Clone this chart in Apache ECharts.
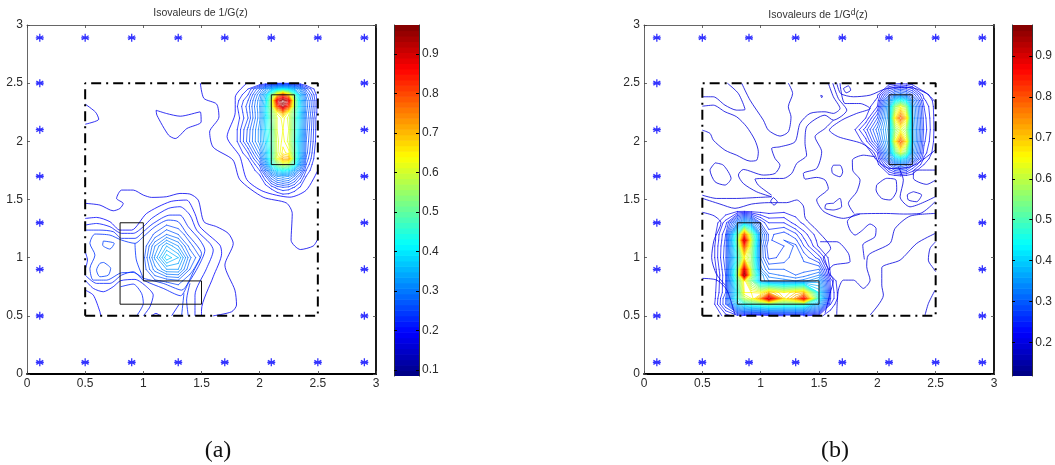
<!DOCTYPE html>
<html><head><meta charset="utf-8">
<style>html,body{margin:0;padding:0;background:#fff}#c{width:1055px;height:465px}</style>
<script src="https://cdn.jsdelivr.net/npm/echarts@6/dist/echarts.min.js"></script>
</head><body><div id="c"></div>
<script>
// ---------- tick labels / sensors ----------
const axisTicks = [0, 0.5, 1, 1.5, 2, 2.5, 3];
const barTicksA = [0.1, 0.2, 0.3, 0.4, 0.5, 0.6, 0.7, 0.8, 0.9];
const barTicksB = [0.2, 0.3, 0.4, 0.5, 0.6, 0.7, 0.8, 0.9];
const barRangeA = [0.085, 0.973];
const barRangeB = [0.118, 0.976];
const sensors = [
 [.11,2.89],[.5,2.89],[.9,2.89],[1.3,2.89],[1.7,2.89],[2.1,2.89],[2.5,2.89],[2.9,2.89],
 [.11,.1],[.5,.1],[.9,.1],[1.3,.1],[1.7,.1],[2.1,.1],[2.5,.1],[2.9,.1],
 [.11,2.5],[.11,2.1],[.11,1.7],[.11,1.3],[.11,.9],[.11,.5],
 [2.9,2.5],[2.9,2.1],[2.9,1.7],[2.9,1.3],[2.9,.9],[2.9,.5]];
const frame = [[.5,.5],[2.5,.5],[2.5,2.5],[.5,2.5],[.5,.5]];
const shapeL = [[.8,.6],[1.5,.6],[1.5,.8],[1,.8],[1,1.3],[.8,1.3],[.8,.6]];
const shapeR = [[2.1,1.8],[2.3,1.8],[2.3,2.4],[2.1,2.4],[2.1,1.8]];

// ---------- panel (a): isovalue lines ----------
const linesA = [
 [.11,[[1.49,2.5],[1.52,2.37],[1.63,2.32],[1.65,2.21],[1.57,2.08],[1.6,1.95],[1.77,1.84],[1.83,1.67],[2.03,1.52],[2.23,1.47],[2.28,1.38],[2.27,1.15],[2.35,1.07],[2.46,1.1],[2.5,1.16]]],
 [.13,[[1.89,2.5],[1.79,2.38],[1.79,2.25],[1.72,2.04],[1.83,1.87],[1.89,1.67],[2.03,1.57],[2.26,1.52],[2.4,1.58],[2.5,1.75]]],
 [.11,[[.5,2.32],[.59,2.25],[.617,2.19],[.5,2.147]]],
 [.11,[[1.11,2.267],[1.2,2.239],[1.317,2.216],[1.489,2.253],[1.497,2.167],[1.374,2.11],[1.274,2.024],[1.217,2.053],[1.117,2.224],[1.11,2.267]]],
 [.11,[[.5,1.467],[.627,1.452],[.741,1.403],[.799,1.423],[.827,1.466],[.77,1.509],[.813,1.581],[.913,1.581],[1,1.538],[1.071,1.518],[1.2,1.524],[1.315,1.552],[1.4,1.547],[1.472,1.495],[1.521,1.309],[1.63,1.266],[1.73,1.209],[1.773,1.123],[1.701,.936],[1.787,.721],[1.801,.593],[1.759,.535],[1.6,.5]]],
 [.13,[[.5,1.337],[.598,1.346],[.713,1.309],[.799,1.237],[.899,1.237],[1.028,1.38],[1.229,1.481],[1.372,1.495],[1.443,1.38],[1.486,1.266],[1.658,1.108],[1.673,1.037],[1.601,.836],[1.5,.55],[1.5,.5]]],
 [.15,[[.5,1.28],[.598,1.294],[.713,1.266],[.813,1.209],[.913,1.209],[1,1.266],[1.071,1.337],[1.214,1.423],[1.315,1.438],[1.401,1.366],[1.458,1.237],[1.572,1.123],[1.601,1.065],[1.544,.908],[1.444,.678],[1.444,.5]]],
 [.17,[[.5,1.237],[.627,1.237],[.742,1.223],[.813,1.166],[.928,1.166],[1,1.223],[1.085,1.294],[1.229,1.366],[1.315,1.366],[1.386,1.266],[1.486,1.151],[1.529,1.065],[1.472,.922],[1.386,.779],[1.32,.673],[1.171,.736],[1,.807],[.913,.879],[.813,.85],[.713,.779],[.598,.779],[.5,.85]]],
 [.19,[[1,.822],[.913,.873],[.813,.87],[.684,.807],[.57,.807],[.541,.908],[.584,1.022],[.541,1.123],[.584,1.203],[.713,1.194],[.813,1.151],[.928,1.123],[1,1.18],[1.1,1.266],[1.214,1.323],[1.3,1.309],[1.372,1.209],[1.458,1.108],[1.5,1.037],[1.444,.908],[1.329,.721],[1.171,.779],[1,.822]]],
 [.19,[[.928,1.123],[.94,.98],[1,.822]]],
 [.15,[[.5,.807],[.57,.736],[.656,.707],[.741,.75],[.805,.802],[.928,.813],[1.028,.75],[1.085,.678],[1.057,.578],[1,.5]]],
 [.17,[[.805,.75],[.913,.773],[.985,.693],[1,.607],[.942,.5]]],
 [.13,[[.5,.721],[.57,.678],[.627,.535],[.633,.5]]],
 [.13,[[1.071,.5],[1.108,.521],[1.148,.5]]],
 [.15,[[1.309,.601],[1.243,.5]]],
 [.17,[[1.401,.779],[1.372,.636],[1.386,.5]]],
 [.19,[[1.349,.693],[1.329,.5]]],
 [.21,[[.656,1.143],[.75,1.123],[.713,1.074],[.65,1.108],[.656,1.143]]],
 [.21,[[.661,.959],[.719,.908],[.699,.85],[.627,.836],[.598,.893],[.627,.951],[.661,.959]]],
 [.15,[[.5,1.05],[.52,.98],[.5,.9]]]
];
// central hump of (a), field estimated from the ring positions
const humpAx = [1,1.1,1.2,1.3,1.4,1.5,1.6];
const humpAy = [1.4,1.3,1.2,1.1,1,.9,.8,.7];
const humpAz = [
 [.14,.15,.165,.17,.155,.13,.11],
 [.155,.18,.2,.19,.16,.13,.115],
 [.18,.215,.25,.23,.19,.155,.13],
 [.19,.27,.33,.29,.22,.18,.15],
 [.2,.295,.385,.35,.255,.205,.165],
 [.195,.26,.31,.31,.23,.17,.14],
 [.18,.205,.215,.225,.185,.15,.12],
 [.14,.15,.165,.18,.15,.12,.1]];
// upper right peak of (a)
const peakAx = [1.8,1.9,2,2.05,2.1,2.15,2.2,2.25,2.3,2.35,2.4,2.5];
const peakAy = [2.5,2.45,2.4,2.35,2.3,2.25,2.2,2.1,2,1.9,1.85,1.8,1.75,1.7,1.6,1.5];
const peakAz = [
 [.09,.1,.12,.13,.14,.145,.15,.145,.14,.13,.12,.1],
 [.11,.15,.23,.29,.34,.38,.4,.38,.33,.28,.2,.125],
 [.13,.17,.27,.36,.5,.68,.8,.68,.49,.35,.24,.135],
 [.14,.19,.285,.375,.56,.88,.97,.88,.55,.37,.26,.14],
 [.145,.2,.29,.39,.55,.8,.94,.8,.54,.38,.265,.14],
 [.14,.195,.285,.395,.52,.64,.74,.62,.5,.375,.255,.14],
 [.135,.19,.285,.385,.5,.61,.64,.6,.49,.37,.25,.13],
 [.145,.215,.3,.39,.48,.61,.63,.61,.48,.355,.24,.13],
 [.145,.22,.3,.375,.47,.6,.64,.6,.47,.35,.23,.13],
 [.125,.17,.26,.35,.46,.6,.66,.64,.49,.345,.22,.12],
 [.115,.15,.23,.33,.46,.62,.72,.72,.5,.33,.205,.12],
 [.105,.13,.195,.29,.42,.52,.58,.55,.44,.3,.19,.11],
 [.09,.12,.17,.24,.33,.39,.42,.4,.33,.25,.17,.11],
 [.08,.105,.145,.19,.25,.29,.3,.29,.25,.2,.15,.1],
 [.07,.09,.115,.135,.155,.175,.185,.18,.165,.145,.12,.095],
 [.06,.08,.095,.1,.105,.11,.12,.12,.115,.105,.1,.09]];

// ---------- panel (b) ----------
const linesB = [
 [.12,[[.714,2.5],[.809,2.411],[.866,2.274],[.794,2.268],[.694,2.311],[.594,2.383],[.5,2.383]]],
 [.12,[[.5,2.302],[.594,2.311],[.694,2.254],[.794,2.211],[.88,2.125],[.951,2.01],[.98,1.91],[.966,1.838],[.909,1.83],[.794,1.881],[.694,1.924],[.594,2.01],[.566,2.068],[.5,2.096]]],
 [.12,[[.837,2.5],[.909,2.354],[1.023,2.182],[1.066,2.096],[1.166,2.045],[1.237,2.082],[1.26,2.211],[1.237,2.297],[1.274,2.411],[1.237,2.5]]],
 [.12,[[1.58,2.5],[1.623,2.383],[1.68,2.282],[1.623,2.24],[1.551,2.254],[1.423,2.24],[1.337,2.153],[1.294,1.996],[1.166,1.953],[1.094,1.939],[1.123,1.853],[1.166,1.795],[1.123,1.724],[1.023,1.71],[.851,1.758],[.809,1.71],[.851,1.638],[.966,1.566],[1.094,1.523]]],
 [.12,[[1.618,2.5],[1.666,2.368],[1.738,2.268],[1.623,2.182],[1.551,2.225],[1.394,2.125],[1.38,1.982],[1.394,1.881],[1.309,1.81],[1.266,1.724],[1.194,1.681],[1.051,1.681],[.951,1.675],[.98,1.623],[1.094,1.537]]],
 [.12,[[1.623,2.182],[1.551,2.11],[1.466,2.039],[1.523,1.91],[1.48,1.767],[1.366,1.724],[1.38,1.675],[1.48,1.69],[1.551,1.668],[1.58,1.596],[1.48,1.496],[1.543,1.395],[1.709,1.338],[1.851,1.375]]],
 [.12,[[.609,1.815],[.68,1.795],[.746,1.681],[.694,1.624],[.609,1.652],[.566,1.752],[.609,1.815]]],
 [.12,[[.5,1.537],[.623,1.509],[.794,1.509],[.966,1.517],[1.094,1.523]]],
 [.12,[[1.109,1.517],[1.143,1.48],[1.114,1.452],[1.086,1.486],[1.109,1.517]]],
 [.12,[[1.515,2.395],[1.53,2.39],[1.523,2.375],[1.515,2.395]]],
 [.12,[[1.623,1.795],[1.68,1.795],[1.703,1.738],[1.68,1.695],[1.617,1.724],[1.609,1.767],[1.623,1.795]]],
 [.12,[[1.994,1.625],[2.08,1.682],[2.16,1.668],[2.166,1.582],[2.109,1.496],[2.037,1.51],[1.989,1.582],[1.994,1.625]]],
 [.12,[[2.309,1.567],[2.38,1.539],[2.337,1.481],[2.266,1.496],[2.257,1.539],[2.309,1.567]]],
 [.12,[[2.5,1.753],[2.32,1.753],[2.309,1.682],[2.423,1.63],[2.5,1.668]]],
 [.12,[[1.623,1.467],[1.68,1.51],[1.694,1.438],[1.623,1.41],[1.551,1.424],[1.56,1.46],[1.623,1.467]]],
 [.13,[[2.495,1.481],[2.366,1.38],[2.223,1.375],[2.08,1.38],[1.823,1.375],[1.743,1.309],[1.766,1.237],[1.809,1.194],[1.866,1.231],[1.938,1.289],[1.989,1.251],[1.98,1.18],[1.875,1.108],[1.889,.985]]],
 [.12,[[2.495,1.38],[2.28,1.357],[2.152,1.251],[2.109,1.123],[1.923,1.022],[1.909,.922],[1.938,.807],[1.88,.736],[1.795,.807],[1.709,.807],[1.666,.721],[1.652,.507]]],
 [.12,[[2.495,1.208],[2.338,1.123],[2.195,.979],[2.038,.913],[2.038,.764],[2.052,.678],[1.938,.507]]],
 [.12,[[2.5,1.137],[2.452,1.08],[2.437,.979],[2.48,.908],[2.5,.88]]],
 [.12,[[2.495,.721],[2.438,.607],[2.409,.507]]],
 [.13,[[1.509,1.137],[1.652,1.137],[1.752,1.037],[1.766,.965],[1.623,.936],[1.58,.879],[1.623,.807],[1.595,.693],[1.552,.521]]],
 [.12,[[1.652,2.5],[1.686,2.411],[1.795,2.383],[1.938,2.397],[2.08,2.454],[2.28,2.463],[2.423,2.411],[2.495,2.34]]],
 [.13,[[1.68,2.5],[1.723,2.325],[1.852,2.325],[1.938,2.282],[1.823,2.24],[1.695,2.182],[1.589,2.096],[1.666,2.039],[1.866,1.982],[1.966,1.91],[2.009,1.824],[2.109,1.767],[2.266,1.775],[2.366,1.824],[2.495,1.924]]],
 [.12,[[1.709,2.454],[1.752,2.477],[1.772,2.44],[1.732,2.417],[1.709,2.454]]],
 [.12,[[1.98,1.867],[1.88,1.881],[1.786,1.838],[1.789,1.752],[1.852,1.666],[1.823,1.566],[1.752,1.466],[1.8,1.38]]],
 [.12,[[2.18,1.781],[2.223,1.666],[2.195,1.523],[2.28,1.437],[2.495,1.523]]],
 [.12,[[.5,1.51],[.651,1.461],[.78,1.424],[.923,1.461],[1.066,1.473],[1.223,1.473],[1.309,1.496],[1.366,1.444],[1.383,1.338],[1.48,1.238],[1.6,1.08],[1.537,.994],[1.589,.894]]],
 [.12,[[.5,.822],[.623,.808],[.71,.722],[.78,.507]]],
 [.13,[[.5,1.39],[.6,1.36],[.66,1.3],[.6,1.15],[.58,1],[.62,.86],[.7,.76]]]
];
const elbowBx = [.5,.6,.7,.8,.86,.92,1,1.07,1.2,1.3,1.37,1.5,1.6,1.7];
const elbowBy = [1.5,1.4,1.3,1.2,1.15,1.1,1,.9,.85,.8,.7,.65,.6,.5];
const elbowBz = [
 [.09,.1,.11,.12,.125,.12,.12,.115,.115,.115,.11,.105,.1,.09],
 [.1,.115,.125,.135,.135,.13,.13,.13,.135,.13,.12,.11,.1,.09],
 [.115,.125,.17,.3,.38,.33,.22,.18,.18,.15,.135,.12,.105,.09],
 [.115,.13,.2,.5,.8,.56,.3,.215,.23,.205,.17,.125,.105,.09],
 [.115,.13,.205,.52,.92,.6,.29,.215,.24,.225,.185,.13,.11,.09],
 [.115,.135,.21,.5,.82,.58,.28,.2,.22,.245,.2,.135,.11,.09],
 [.115,.135,.215,.46,.66,.56,.28,.215,.225,.26,.235,.19,.125,.09],
 [.11,.125,.205,.52,.9,.58,.31,.26,.26,.24,.25,.26,.13,.095],
 [.11,.12,.2,.54,.96,.59,.36,.29,.275,.26,.27,.3,.14,.1],
 [.11,.125,.2,.5,.68,.54,.36,.32,.31,.3,.31,.35,.17,.105],
 [.11,.13,.2,.45,.66,.66,.65,.72,.66,.7,.72,.42,.18,.11],
 [.11,.13,.22,.47,.6,.64,.75,.93,.68,.75,.88,.45,.18,.11],
 [.11,.135,.22,.4,.45,.48,.5,.52,.5,.5,.5,.36,.16,.105],
 [.1,.12,.15,.17,.15,.14,.14,.15,.16,.16,.16,.15,.12,.09]];
const nestBx = [1.8,1.9,2,2.1,2.15,2.2,2.25,2.3,2.4,2.5];
const nestBy = [2.5,2.4,2.35,2.3,2.2,2.1,2,1.9,1.85,1.8,1.7,1.6];
const nestBz = [
 [.1,.11,.115,.125,.13,.135,.13,.125,.115,.11],
 [.1,.115,.135,.24,.28,.3,.28,.24,.15,.125],
 [.105,.12,.145,.32,.42,.46,.42,.31,.165,.13],
 [.11,.125,.16,.36,.55,.65,.55,.34,.18,.13],
 [.12,.14,.22,.36,.66,.8,.68,.35,.19,.13],
 [.135,.19,.27,.37,.55,.63,.56,.36,.195,.13],
 [.12,.15,.24,.36,.64,.8,.66,.36,.185,.13],
 [.11,.12,.16,.33,.5,.62,.52,.33,.17,.125],
 [.105,.115,.145,.3,.38,.42,.38,.29,.155,.12],
 [.1,.105,.13,.22,.27,.29,.27,.21,.14,.115],
 [.09,.1,.115,.125,.13,.135,.13,.125,.115,.1],
 [.09,.09,.1,.105,.105,.105,.105,.105,.1,.095]];

// ---------- helpers ----------
function jetAt(t) {
  const c = (d) => Math.round(255 * Math.max(0, Math.min(1, 1.5 - Math.abs(4 * t - d))));
  return 'rgb(' + c(3) + ',' + c(2) + ',' + c(1) + ')';
}
const jet = (v, r) => jetAt((v - r[0]) / (r[1] - r[0]));
// thin low-level lines look plain blue in the reference, not navy
function lineColor(v, r) {
  let t = (v - r[0]) / (r[1] - r[0]);
  if (t < .3) t += .09 * (1 - t / .3);
  return jetAt(t);
}
function contour(xs, ys, z, L) {
  const out = [];
  const brk = ['-', '-'];
  for (let j = 0; j < ys.length - 1; j++) for (let i = 0; i < xs.length - 1; i++) {
    const p = [];
    const edge = (x1, y1, a, x2, y2, b) => {
      if ((a >= L) !== (b >= L)) {
        const t = (L - a) / (b - a);
        p.push([x1 + t * (x2 - x1), y1 + t * (y2 - y1)]);
      }
    };
    const a = z[j][i], b = z[j][i + 1], c = z[j + 1][i + 1], d = z[j + 1][i];
    edge(xs[i], ys[j], a, xs[i + 1], ys[j], b);
    edge(xs[i + 1], ys[j], b, xs[i + 1], ys[j + 1], c);
    edge(xs[i + 1], ys[j + 1], c, xs[i], ys[j + 1], d);
    edge(xs[i], ys[j + 1], d, xs[i], ys[j], a);
    if (p.length === 2) out.push(p[0], p[1], brk);
    else if (p.length === 4) out.push(p[0], p[1], brk, p[2], p[3], brk);
  }
  return out;
}
function levels(from, to) { const r = []; for (let k = 0; from + k * .02 <= to + 1e-9; k++) r.push(+(from + k * .02).toFixed(3)); return r; }

const series = [];
function fieldLines(xs, ys, z, from, range, g) {
  levels(from, .97).forEach(L => {
    const d = contour(xs, ys, z, L);
    if (d.length) series.push({type:'line', xAxisIndex:g, yAxisIndex:g, data:d, showSymbol:false, silent:true, animation:false, connectNulls:false,
      lineStyle:{color:lineColor(L, range), width:.9, opacity:.8, cap:'round'}, z:2});
  });
}
function traced(list, range, g) {
  list.forEach(([L, pts]) => series.push({type:'line', xAxisIndex:g, yAxisIndex:g, data:pts, smooth:.25, showSymbol:false, silent:true, animation:false,
    lineStyle:{color:lineColor(L, range), width:1, opacity:.8}, z:2}));
}
fieldLines(humpAx, humpAy, humpAz, .21, barRangeA, 0);
fieldLines(peakAx, peakAy, peakAz, .15, barRangeA, 0);
traced(linesA, barRangeA, 0);
fieldLines(elbowBx, elbowBy, elbowBz, .14, barRangeB, 1);
fieldLines(nestBx, nestBy, nestBz, .14, barRangeB, 1);
traced(linesB, barRangeB, 1);

[0, 1].forEach(g => {
  [shapeL, shapeR].forEach(s => series.push({type:'line', xAxisIndex:g, yAxisIndex:g, data:s, showSymbol:false, silent:true, animation:false,
    lineStyle:{color:'#111', width:1}, z:4}));
  series.push({type:'line', xAxisIndex:g, yAxisIndex:g, data:frame, showSymbol:false, silent:true, animation:false, clip:false,
    lineStyle:{color:'#000', width:2, type:[10,5,2,5]}, z:5});
  series.push({type:'scatter', xAxisIndex:g, yAxisIndex:g, data:sensors, silent:true, animation:false,
    symbol:'path://M5 0V10M.67 2.5L9.33 7.5M9.33 2.5L.67 7.5M0 5H10', symbolSize:8,
    itemStyle:{color:'none', borderColor:'#0000ff', borderWidth:1.3}, z:6});
});
function colorBar(range, g) {
  const n = 64, bands = [];
  for (let i = 0; i < n; i++) bands.push([range[0] + i * (range[1] - range[0]) / n, range[0] + (i + 1) * (range[1] - range[0]) / n]);
  series.push({type:'custom', xAxisIndex:g, yAxisIndex:g, silent:true, animation:false, data:bands, clip:true,
    renderItem:(p, api) => {
      const a = api.coord([0, api.value(0)]), b = api.coord([1, api.value(1)]);
      const v = (api.value(0) + api.value(1)) / 2;
      return {type:'rect', shape:{x:a[0], y:b[1], width:b[0]-a[0], height:a[1]-b[1]+.6}, style:{fill:jet(v, range)}};
    }, encode:{x:-1, y:[0,1]}, z:1});
}
colorBar(barRangeA, 2);
colorBar(barRangeB, 3);

const labelStyle = {color:'#2a2a2a', fontSize:12, fontFamily:'"Liberation Sans"'};
const grids = [
 {left:27, top:25, width:349, height:349},
 {left:644, top:25, width:350, height:349},
 {left:394, top:25, width:25, height:351},
 {left:1012, top:25, width:25, height:351}];
function mainX(g, pos) {
  const bottom = pos === 'bottom';
  return {type:'value', gridIndex:g, min:0, max:3, interval:.5, position:pos, splitLine:{show:false}, z:10,
    axisLine:{show:true, onZero:false, lineStyle:{color:bottom ? '#000' : '#666', width:bottom ? 1.8 : 1}},
    axisTick:{show:true, inside:true, length:3, lineStyle:{color:'#444', width:.8}},
    axisLabel:{show:bottom, margin:4, ...labelStyle, customValues:axisTicks}};
}
function mainY(g, pos) {
  const left = pos === 'left';
  return {type:'value', gridIndex:g, min:0, max:3, interval:.5, position:pos, splitLine:{show:false}, z:10,
    axisLine:{show:true, onZero:false, lineStyle:{color:left ? '#666' : '#000', width:left ? 1 : 1.8}},
    axisTick:{show:true, inside:true, length:3, lineStyle:{color:'#444', width:.8}},
    axisLabel:{show:left, margin:4, ...labelStyle, customValues:axisTicks}};
}
function barY(g, range, ticks, pos) {
  const right = pos === 'right';
  return {type:'value', gridIndex:g, min:range[0], max:range[1], position:pos, splitLine:{show:false}, z:10,
    axisLine:{show:true, onZero:false, lineStyle:{color:'#333', width:1}},
    axisTick:{show:true, inside:true, length:3, lineStyle:{color:'#000', width:1}, customValues:ticks},
    axisLabel:{show:right, margin:3, ...labelStyle, formatter:v => String(+v.toFixed(1)), customValues:ticks}};
}
const barX = g => ({type:'value', gridIndex:g, min:0, max:1, show:false});

const titles = [
 {text:'Isovaleurs de 1/G(z)', left:200.5, top:8, padding:0, textAlign:'center', textStyle:{color:'#333', fontSize:10.5, fontWeight:'normal', fontFamily:'"Liberation Sans"'}},
 {text:'Isovaleurs de 1/G{s|d}(z)', left:818, top:8, padding:0, textAlign:'center', textStyle:{color:'#333', fontSize:10.5, fontWeight:'normal', fontFamily:'"Liberation Sans"', rich:{s:{fontSize:8.5, padding:[0,0,6,0], color:'#333'}}}},
 {text:'(a)', left:218, top:439, padding:0, textAlign:'center', textStyle:{color:'#111', fontSize:24, fontWeight:'normal', fontFamily:'"Liberation Serif"'}},
 {text:'(b)', left:835, top:439, padding:0, textAlign:'center', textStyle:{color:'#111', fontSize:24, fontWeight:'normal', fontFamily:'"Liberation Serif"'}}
];

const chart = echarts.init(document.getElementById('c'), null, {renderer:'canvas'});
chart.setOption({
  animation:false, backgroundColor:'#fff', title:titles, grid:grids,
  xAxis:[mainX(0,'bottom'), mainX(1,'bottom'), barX(2), barX(3), mainX(0,'top'), mainX(1,'top')],
  yAxis:[mainY(0,'left'), mainY(1,'left'), barY(2,barRangeA,barTicksA,'right'), barY(3,barRangeB,barTicksB,'right'),
         mainY(0,'right'), mainY(1,'right'), barY(2,barRangeA,barTicksA,'left'), barY(3,barRangeB,barTicksB,'left')],
  series
});
</script></body></html>
